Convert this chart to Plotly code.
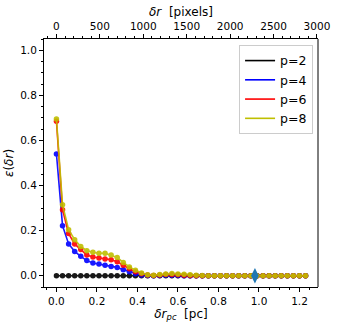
import plotly.graph_objects as go

# --- data
dr_pc = [0.00, 0.03, 0.06, 0.09, 0.12, 0.15, 0.18, 0.21, 0.24, 0.27,
         0.30, 0.33, 0.36, 0.39, 0.42, 0.45, 0.48, 0.51, 0.54, 0.57,
         0.60, 0.63, 0.66, 0.69, 0.72, 0.75, 0.78, 0.81, 0.84, 0.87,
         0.90, 0.93, 0.96, 0.99, 1.02, 1.05, 1.08, 1.11, 1.14, 1.17,
         1.20, 1.23]

eps_p2 = [0.0, 0.0, 0.0, 0.0, 0.0, 0.0, 0.0, 0.0, 0.0, 0.0,
          0.0, 0.0, 0.0, 0.0, 0.0, 0.0, 0.0, 0.0, 0.0, 0.0,
          0.0, 0.0, 0.0, 0.0, 0.0, 0.0, 0.0, 0.0, 0.0, 0.0,
          0.0, 0.0, 0.0, 0.0, 0.0, 0.0, 0.0, 0.0, 0.0, 0.0,
          0.0, 0.0]
eps_p4 = [0.540, 0.222, 0.141, 0.108, 0.086, 0.067, 0.056, 0.052, 0.047, 0.041,
          0.037, 0.027, 0.018, 0.009, 0.003, 0.001, 0.000, 0.001, 0.002, 0.002,
          0.001, 0.000, 0.0, 0.0, 0.0, 0.0, 0.0, 0.0, 0.0, 0.0,
          0.0, 0.0, 0.0, 0.0, 0.0, 0.0, 0.0, 0.0, 0.0, 0.0,
          0.0, 0.0]
eps_p6 = [0.685, 0.293, 0.187, 0.141, 0.116, 0.092, 0.083, 0.079, 0.074, 0.071,
          0.062, 0.046, 0.031, 0.018, 0.009, 0.003, 0.001, 0.003, 0.005, 0.005,
          0.004, 0.002, 0.001, 0.0, 0.0, 0.0, 0.0, 0.0, 0.0, 0.0,
          0.0, 0.0, 0.0, 0.0, 0.0, 0.0, 0.0, 0.0, 0.0, 0.0,
          0.0, 0.0]
eps_p8 = [0.695, 0.315, 0.204, 0.160, 0.130, 0.111, 0.104, 0.100, 0.100, 0.092,
          0.081, 0.059, 0.039, 0.024, 0.012, 0.004, 0.002, 0.005, 0.008, 0.010,
          0.008, 0.006, 0.004, 0.002, 0.001, 0.0, 0.0, 0.0, 0.0, 0.0,
          0.0, 0.0, 0.0, 0.0, 0.0, 0.0, 0.0, 0.0, 0.0, 0.0,
          0.0, 0.0]

series_names = ["p=2", "p=4", "p=6", "p=8"]
series_vals = [eps_p2, eps_p4, eps_p6, eps_p8]
series_cols = ["#000000", "#0000ff", "#ff0000", "#bfbf00"]

marker_x = [0.98]
marker_y = [0.0]

pix_per_pc = 2332  # top axis scale

FONT = "DejaVu Sans"

fig = go.Figure()

# --- 1. curves (line only in legend, markers separately)
for name, vals, col in zip(series_names, series_vals, series_cols):
    fig.add_trace(go.Scatter(x=dr_pc, y=vals, mode="lines+markers",
                             line=dict(color=col, width=1.6),
                             marker=dict(color=col, size=5.5),
                             opacity=0.9, showlegend=False))
    fig.add_trace(go.Scatter(x=[None], y=[None], mode="lines",
                             line=dict(color=col, width=1.6), name=name))

fig.add_trace(go.Scatter(x=marker_x, y=marker_y, mode="markers",
                         marker=dict(color="#1f77b4", size=11,
                                     symbol="diamond-tall"),
                         showlegend=False))

# helper for the top (pixels) axis
fig.add_trace(go.Scatter(x=[v * pix_per_pc for v in dr_pc],
                         y=[None] * len(dr_pc), xaxis="x2",
                         mode="lines", showlegend=False, hoverinfo="skip"))

# --- 2. style
tick_font = dict(family=FONT, size=10.5, color="black")
title_font = dict(family=FONT, size=12, color="black")
common = dict(showline=True, linecolor="black", linewidth=1, mirror=False,
              ticks="outside", ticklen=4, tickcolor="black", showgrid=False,
              zeroline=False, tickfont=tick_font, automargin=False)

fig.update_layout(
    width=354, height=323,
    margin=dict(l=44, r=36, t=39, b=36),
    plot_bgcolor="white", paper_bgcolor="white",
    font=dict(family=FONT, size=11, color="black"),
    xaxis=dict(range=[-0.0615, 1.2915], dtick=0.2, tick0=0,
               tickformat=".1f",
               minor=dict(dtick=0.05, ticks="outside", ticklen=2,
                          tickcolor="black"),
               title=dict(text="<i>δr</i><sub><i>pc</i></sub>  [pc]",
                          font=title_font, standoff=1),
               **common),
    xaxis2=dict(overlaying="x", side="top", anchor="y",
                range=[-0.0615 * pix_per_pc, 1.2915 * pix_per_pc],
                dtick=500, tick0=0,
                minor=dict(dtick=100, ticks="outside", ticklen=2,
                           tickcolor="black"),
                title=dict(text="<i>δr</i>  [pixels]",
                           font=title_font, standoff=0),
                **common),
    yaxis=dict(range=[-0.05, 1.05], dtick=0.2, tick0=0, tickformat=".1f",
               minor=dict(dtick=0.05, ticks="outside", ticklen=2,
                          tickcolor="black"),
               title=dict(text="<i>ε</i>(<i>δr</i>)",
                          font=title_font, standoff=3),
               **common),
    legend=dict(x=0.982, y=0.976, xanchor="right", yanchor="top",
                bgcolor="white", bordercolor="#cccccc", borderwidth=1,
                font=dict(family=FONT, size=12.5), tracegroupgap=0),
)

# right spine
fig.add_shape(type="line", xref="paper", yref="paper", x0=1, x1=1, y0=0, y1=1,
              line=dict(color="black", width=1))

# drop the default page margin so the figure sits at the window corner
fig.write_html("out.html", config={"displayModeBar": False},
               post_script="document.body.style.margin='0px';")
